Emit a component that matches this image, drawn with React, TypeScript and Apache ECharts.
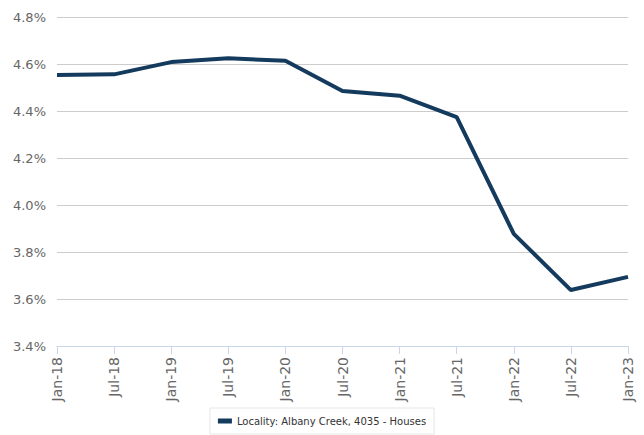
import React, { useEffect, useRef } from "react";
import * as echarts from "echarts";

const categories = ["Jan-18", "Jul-18", "Jan-19", "Jul-19", "Jan-20", "Jul-20", "Jan-21", "Jul-21", "Jan-22", "Jul-22", "Jan-23"];
const seriesName = "Locality: Albany Creek, 4035 - Houses";
const values = [4.553, 4.556, 4.608, 4.624, 4.614, 4.485, 4.465, 4.374, 3.877, 3.638, 3.694];

export default function App() {
  const ref = useRef<HTMLDivElement>(null);
  useEffect(() => {
    if (!ref.current) return;
    const chart = echarts.init(ref.current, undefined, { renderer: "svg" });
    chart.setOption({
      animation: false,
      textStyle: { fontFamily: "DejaVu Sans" },
      grid: { left: 57, right: 16, top: 17, bottom: 89 },
      xAxis: {
        type: "category",
        data: categories,
        boundaryGap: false,
        axisLine: { lineStyle: { color: "#ccd6eb" } },
        axisTick: { alignWithLabel: true, length: 8, lineStyle: { color: "#ccd6eb" } },
        axisLabel: { rotate: 90, color: "#666666", fontSize: 14, margin: 11 },
        splitLine: { show: false },
      },
      yAxis: {
        type: "value",
        min: 3.4,
        max: 4.8,
        interval: 0.2,
        axisLine: { show: false },
        axisTick: { show: false },
        axisLabel: { color: "#666666", fontSize: 13, margin: 11, formatter: (v: number) => v.toFixed(1) + "%" },
        splitLine: { lineStyle: { color: "#cccccc" } },
      },
      legend: {
        top: 408,
        left: "center",
        data: [seriesName],
        icon: "rect",
        itemWidth: 14,
        itemHeight: 5,
        itemGap: 5,
        padding: [8, 8, 8, 8],
        borderColor: "#e6e6e6",
        borderWidth: 1,
        textStyle: { color: "#333333", fontSize: 10 },
      },
      series: [
        {
          name: seriesName,
          type: "line",
          data: values,
          symbol: "none",
          lineStyle: { color: "#143b5d", width: 4 },
          itemStyle: { color: "#143b5d" },
        },
      ],
    });
    return () => chart.dispose();
  }, []);
  return <div ref={ref} style={{ width: 644, height: 435, position: "absolute", left: 0, top: 0 }} />;
}
